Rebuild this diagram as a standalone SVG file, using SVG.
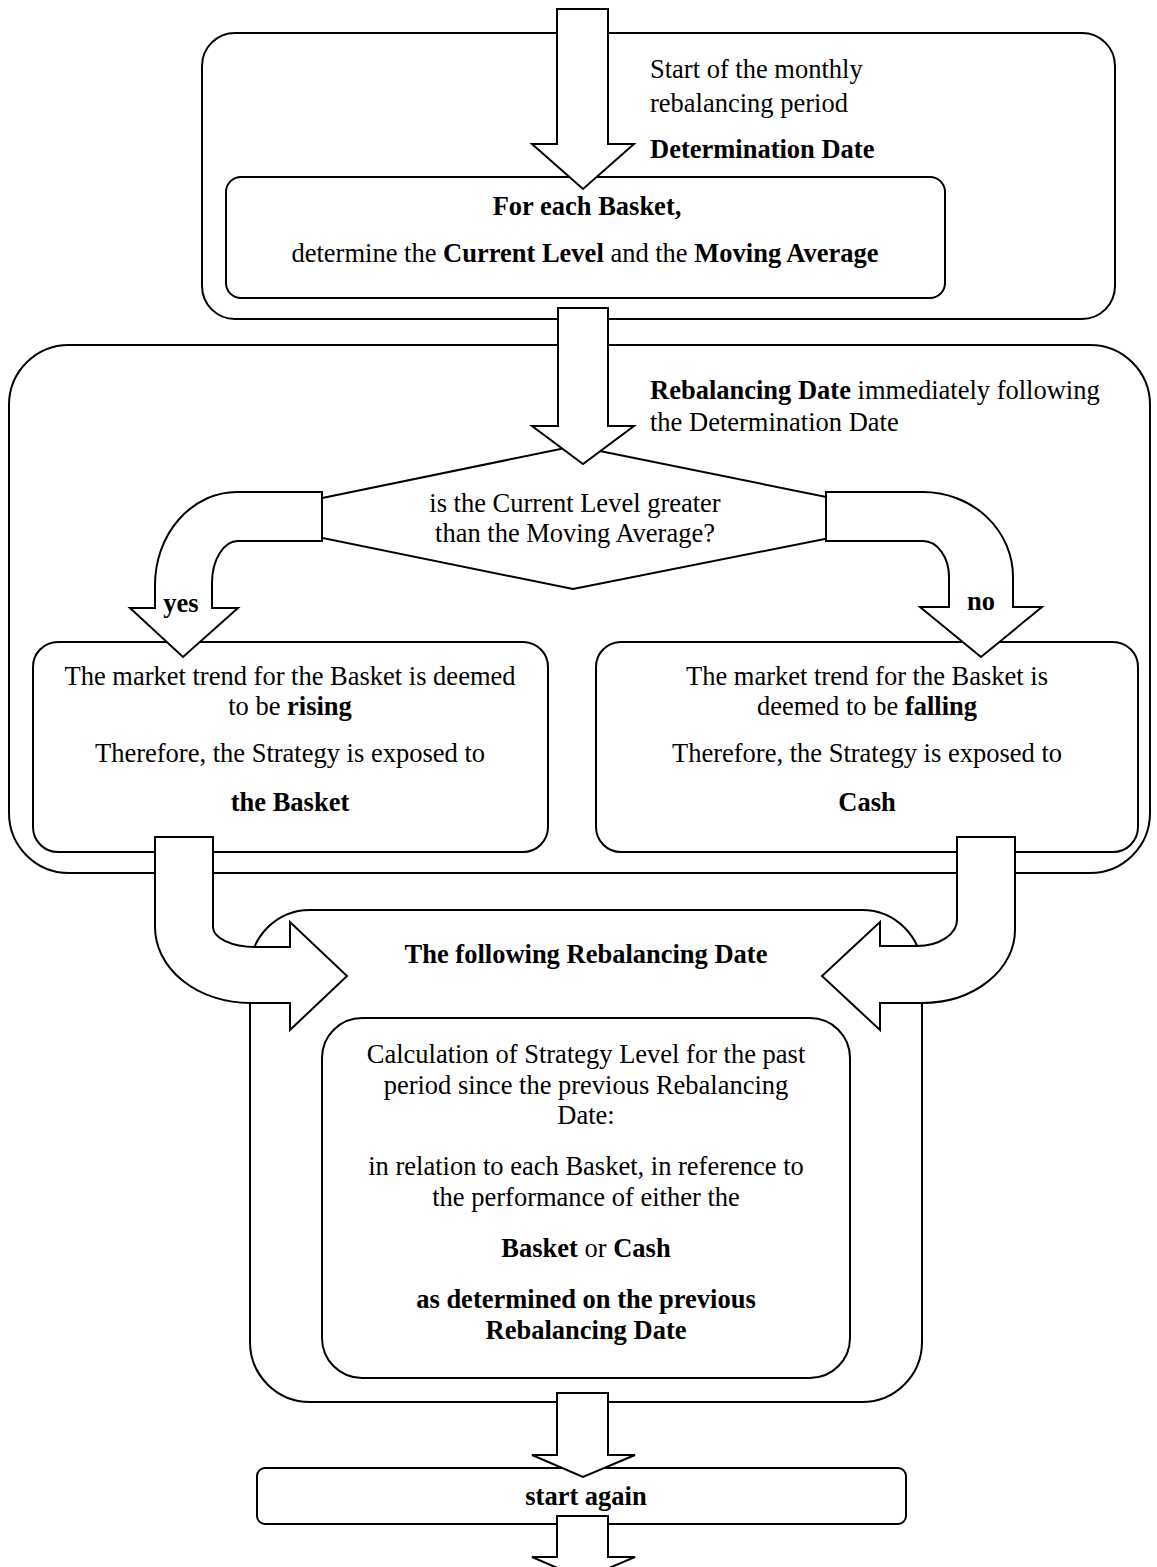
<svg xmlns="http://www.w3.org/2000/svg" width="1157" height="1567" viewBox="0 0 1157 1567">
<style>
.box{fill:#fff;stroke:#000;stroke-width:2}
.arr{fill:#fff;stroke:#000;stroke-width:2;stroke-linejoin:miter}
text{font-family:"Liberation Serif","Times New Roman",serif;font-size:26.5px;fill:#000}
.c{text-anchor:middle}
.b{font-weight:bold}
</style>
<rect width="1157" height="1567" fill="#fff"/>
<g id="determination">
<rect class="box" x="202" y="33" width="913" height="286" rx="33"/>
<text x="650" y="78">Start of the monthly</text>
<text x="650" y="112">rebalancing period</text>
<text x="650" y="158" class="b">Determination Date</text>
</g>
<g id="each-basket">
<rect class="box" x="226" y="177" width="719" height="121" rx="15"/>
<text x="587" y="215" class="c b">For each Basket,</text>
<text x="585" y="262" class="c">determine the <tspan class="b">Current Level</tspan> and the <tspan class="b">Moving Average</tspan></text>
</g>
<g id="rebalancing">
<rect class="box" x="9" y="345" width="1141" height="528" rx="60"/>
<text x="650" y="399"><tspan class="b">Rebalancing Date</tspan> immediately following</text>
<text x="650" y="431">the Determination Date</text>
</g>
<g id="decision">
<polygon class="box" points="575,446 930,518 573,589 225,518"/>
<text x="575" y="512" class="c">is the Current Level greater</text>
<text x="575" y="542" class="c">than the Moving Average?</text>
</g>
<g id="rising">
<rect class="box" x="33" y="642" width="515" height="210" rx="25"/>
<text x="290" y="685" class="c">The market trend for the Basket is deemed</text>
<text x="290" y="715" class="c">to be <tspan class="b">rising</tspan></text>
<text x="290" y="762" class="c">Therefore, the Strategy is exposed to</text>
<text x="290" y="811" class="c b">the Basket</text>
</g>
<g id="falling">
<rect class="box" x="596" y="642" width="542" height="210" rx="25"/>
<text x="867" y="685" class="c">The market trend for the Basket is</text>
<text x="867" y="715" class="c">deemed to be <tspan class="b">falling</tspan></text>
<text x="867" y="762" class="c">Therefore, the Strategy is exposed to</text>
<text x="867" y="811" class="c b">Cash</text>
</g>
<g id="following">
<rect class="box" x="250" y="910" width="672" height="492" rx="60"/>
<text x="586" y="963" class="c b">The following Rebalancing Date</text>
</g>
<g id="calculation">
<rect class="box" x="322" y="1018" width="528" height="360" rx="40"/>
<text x="586" y="1063" class="c">Calculation of Strategy Level for the past</text>
<text x="586" y="1094" class="c">period since the previous Rebalancing</text>
<text x="586" y="1124" class="c">Date:</text>
<text x="586" y="1175" class="c">in relation to each Basket, in reference to</text>
<text x="586" y="1206" class="c">the performance of either the</text>
<text x="586" y="1257" class="c"><tspan class="b">Basket</tspan> or <tspan class="b">Cash</tspan></text>
<text x="586" y="1308" class="c b">as determined on the previous</text>
<text x="586" y="1339" class="c b">Rebalancing Date</text>
</g>
<g id="start-again">
<rect class="box" x="257" y="1468" width="649" height="56" rx="8"/>
<text x="586" y="1505" class="c b">start again</text>
</g>
<g id="connectors">
<path class="arr" d="M557,9 H608 V144 H634 L583,189 L532,144 H557 Z"/>
<path class="arr" d="M558,308 H608 V426 H634 L583,464 L532,426 H558 Z"/>
<path class="arr" d="M322,492 H237 A82,93 0 0 0 155,585 V608 H130 L183,657 L238,608 H212 V583 A26,42 0 0 1 238,541 H322 Z"/>
<path class="arr" d="M826,492 H923 A90,85 0 0 1 1013,577 V607 H1042 L981,657 L920,607 H949 V577 A26,36 0 0 0 923,541 H826 Z"/>
<path class="arr" d="M155,837 H213 V927 A42,20 0 0 0 255,947 H290 V922 L347,976 L290,1030 V1003 H250 A95,76 0 0 1 155,927 Z"/>
<path class="arr" d="M1015,837 H957 V920 A40,26 0 0 1 917,946 H880 V922 L822,976 L880,1030 V1003 H922 A93,73 0 0 0 1015,930 Z"/>
<path class="arr" d="M557,1393 H608 V1455 H635 L583,1477 L532,1455 H557 Z"/>
<path class="arr" d="M557,1516 H608 V1557 H635 L583,1579 L532,1557 H557 Z"/>
<text x="181" y="612" class="c b">yes</text>
<text x="981" y="610" class="c b">no</text>
</g>
</svg>
